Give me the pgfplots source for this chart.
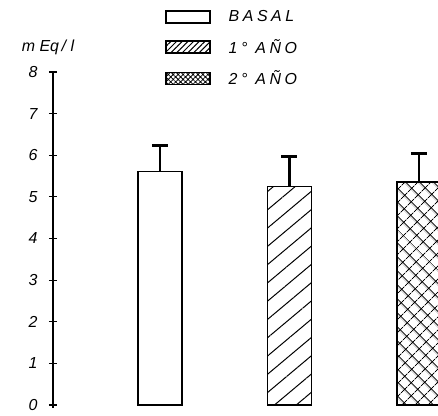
\documentclass[border=0pt]{standalone}
\usepackage{fontspec}
\setmainfont{Liberation Sans}
\usepackage{pgfplots}
\pgfplotsset{compat=1.18}
\usetikzlibrary{patterns.meta}

\begin{document}
\begin{tikzpicture}
\useasboundingbox (0,0) rectangle (438bp,416bp);
\begin{axis}[
  at={(53bp,8.5bp)}, anchor=south west,
  scale only axis, width=385bp, height=335.5bp,
  xmin=0.1737, xmax=3.147, ymin=-0.06, ymax=8,
  axis x line=none, axis y line=left,
  y axis line style={-, line width=1.3bp},
  ytick={0,...,8}, tick align=center, major tick length=8bp,
  tick style={line width=1.2bp, black},
  yticklabel style={font=\fontsize{16}{16}\selectfont\itshape, anchor=east, xshift=-8bp},
  /pgf/number format/assume math mode=true,
  ybar, bar width=44bp, bar shift=0pt,
  clip=true,
  legend style={draw=none, fill=none, at={(axis description cs:0.291,1.19)},
    anchor=north west, inner sep=0pt, row sep=12bp,
    font=\fontsize{16}{16}\selectfont\itshape\addfontfeature{LetterSpace=22},
    nodes={inner sep=2bp}, legend cell align=left,
    /tikz/every odd column/.append style={column sep=16bp}},
  err/.style={error bars/.cd, y dir=plus, y explicit,
    error bar style={line width=2.2bp, black},
    error mark options={rotate=90, mark size=8bp, line width=2.6bp, black}},
]
\addplot[draw=black, line width=1.8bp, fill=white,
  legend image code/.code={\draw[line width=1.5bp, fill=white] (0bp,-6bp) rectangle (44bp,6bp);}, err]
  coordinates {(1,5.61) +- (0,0.62)};
\addlegendentry{BASAL}
\addplot[draw=black, line width=1.8bp,
  pattern={Lines[angle=40, distance=14bp, line width=1bp]},
  legend image code/.code={\draw[line width=1.5bp, pattern={Lines[angle=45, distance=4bp, line width=1bp]}] (0bp,-6bp) rectangle (44bp,6bp);}, err]
  coordinates {(2,5.25) +- (0,0.72)};
\addlegendentry{1° AÑO}
\addplot[draw=black, line width=1.8bp,
  pattern={Hatch[angle=45, distance=9.5bp, line width=1bp]},
  legend image code/.code={\draw[line width=1.5bp, pattern={Hatch[angle=45, distance=3.5bp, line width=0.8bp]}] (0bp,-6bp) rectangle (44bp,6bp);}, err]
  coordinates {(3,5.35) +- (0,0.69)};
\addlegendentry{2° AÑO}
\end{axis}
\node[font=\fontsize{16}{16}\selectfont\itshape] at (48bp,369bp) {m\ Eq\,/\ l};
\end{tikzpicture}
\end{document}
